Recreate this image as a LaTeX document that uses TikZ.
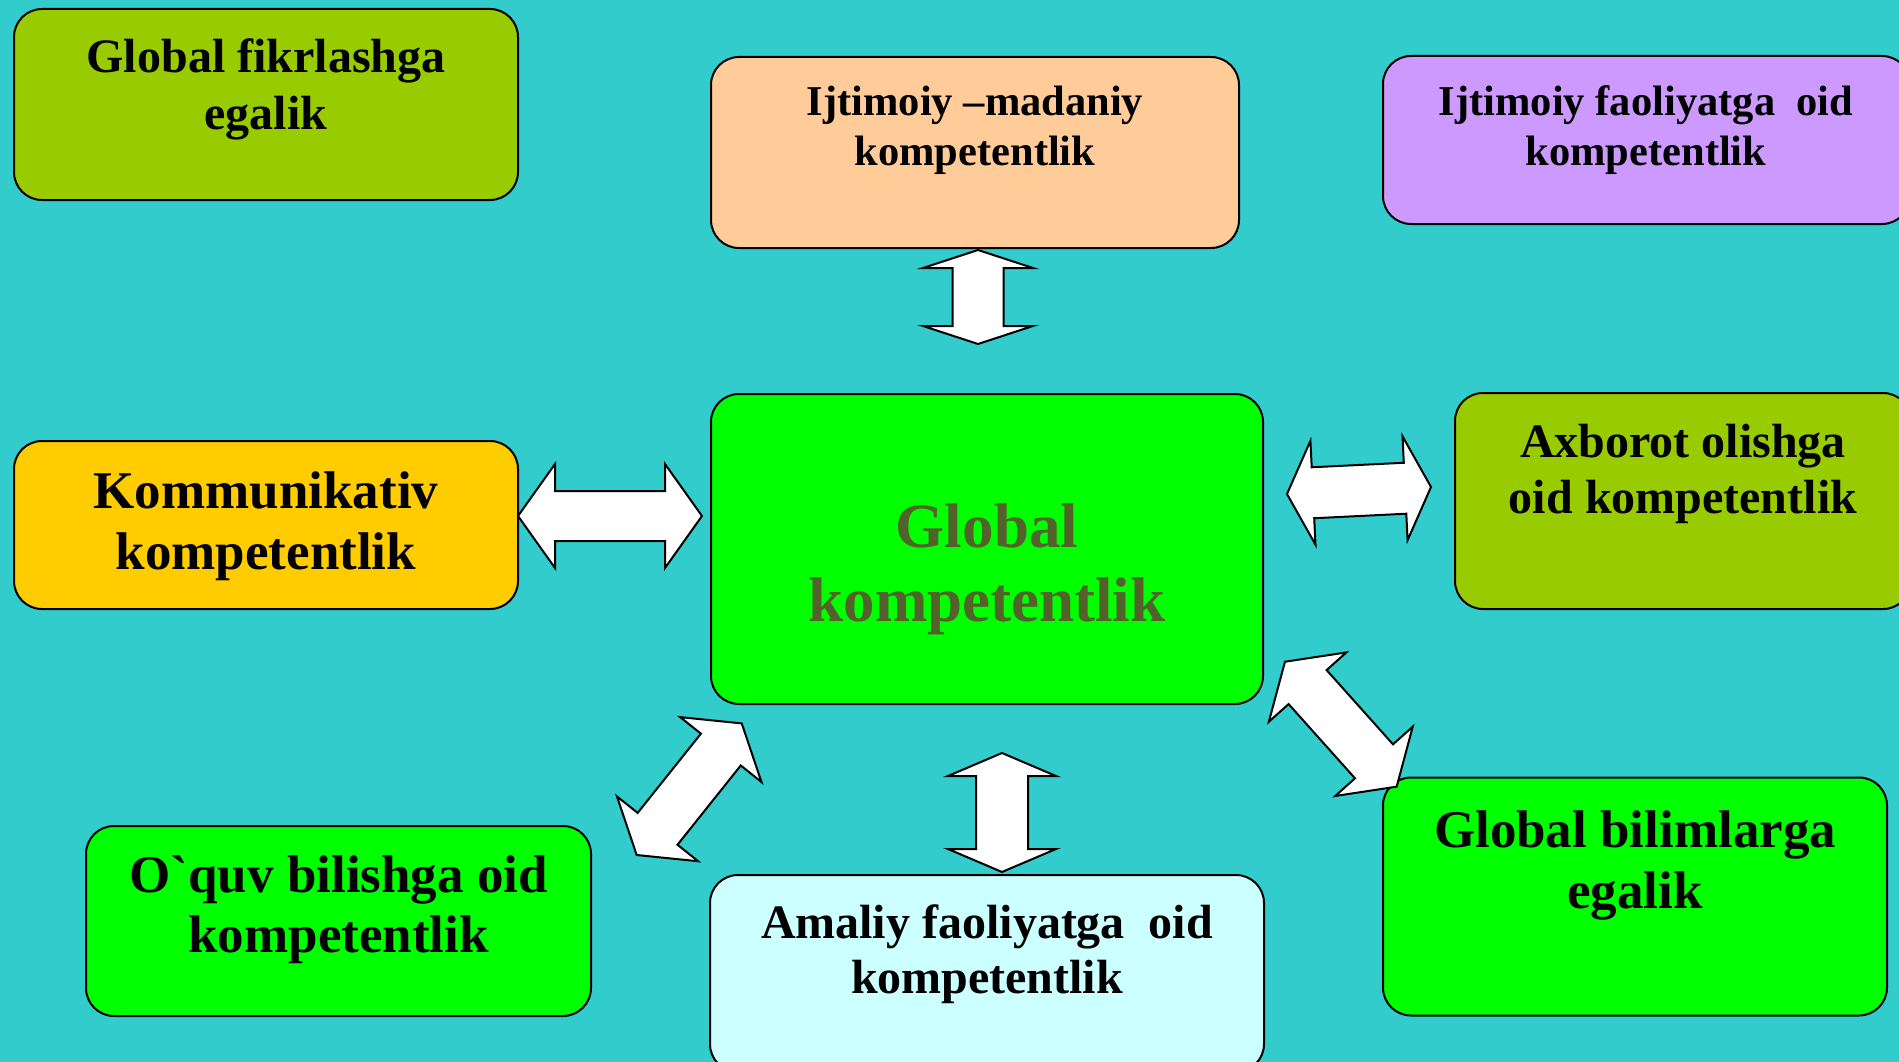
\documentclass[tikz,border=0pt]{standalone}
\usepackage{fontspec}
\setmainfont{Liberation Serif}
\definecolor{bg}{HTML}{33CCCC}
\definecolor{cLime}{HTML}{99CC00}
\definecolor{cPeach}{HTML}{FFCC99}
\definecolor{cLilac}{HTML}{CC99FF}
\definecolor{cGold}{HTML}{FFCC00}
\definecolor{cGreen}{HTML}{00FF00}
\definecolor{cIce}{HTML}{CCFFFF}
\definecolor{cOlive}{RGB}{82,98,42}
\tikzset{
  box/.style={draw=black, line width=2pt, rounded corners=28pt, inner sep=0pt, outer sep=0pt},
  lbl/.style={anchor=base, align=center, inner sep=0pt, font=\bfseries},
  blockarrow/.style={draw=black, fill=white, line width=2pt, line join=miter},
}
\newcommand{\dblarr}[7]{%
  \begin{scope}[shift={(#1,#2)}, rotate=#3]
    \draw[blockarrow] ({-#4/2},0) -- ({-#4/2+#5},#6) -- ({-#4/2+#5},#7) -- ({#4/2-#5},#7) -- ({#4/2-#5},#6) -- ({#4/2},0) -- ({#4/2-#5},-#6) -- ({#4/2-#5},-#7) -- ({-#4/2+#5},-#7) -- ({-#4/2+#5},-#6) -- cycle;
  \end{scope}}
\begin{document}
\begin{tikzpicture}[x=1pt, y=-1pt]
\useasboundingbox (0,0) rectangle (1899,1062);
\clip (0,0) rectangle (1899,1062);
\fill[bg] (-5,-5) rectangle (1905,1067);

% boxes
\node[box, fill=cLime,  minimum width=504pt, minimum height=191pt] (fik)  at (266,104.5) {};
\node[box, fill=cPeach, minimum width=528pt, minimum height=191pt] (mad)  at (975,152.5) {};
\node[box, fill=cLilac, minimum width=527pt, minimum height=168pt] (faol) at (1646.5,140) {};
\node[box, fill=cGold,  minimum width=504pt, minimum height=168pt] (kom)  at (266,525) {};
\node[box, fill=cGreen, minimum width=552pt, minimum height=310pt] (glob) at (987,549) {};
\node[box, fill=cLime,  minimum width=456pt, minimum height=216pt] (axb)  at (1683,501) {};
\node[box, fill=cGreen, minimum width=505pt, minimum height=190pt] (oquv) at (338.5,921) {};
\node[box, fill=cIce,   minimum width=554pt, minimum height=197pt] (amal) at (987,973.5) {};
\node[box, fill=cGreen, minimum width=504pt, minimum height=238pt] (bil)  at (1635,896.5) {};

% texts (anchor = baseline of the last line)
\node[lbl, font=\bfseries\fontsize{48}{57}\selectfont] (fikT) at (266,129.5) {Global fikrlashga\\egalik};
\node[lbl, font=\bfseries\fontsize{42.5}{50}\selectfont] (madT) at (975,165) {Ijtimoiy –madaniy\\kompetentlik};
\node[lbl, font=\bfseries\fontsize{42.5}{50}\selectfont] (faolT) at (1646,165) {Ijtimoiy faoliyatga\ \ oid\\kompetentlik};
\node[lbl, font=\bfseries\fontsize{53}{61}\selectfont] (komT) at (266,569.5) {Kommunikativ\\kompetentlik};
\node[lbl, font=\bfseries\fontsize{63}{74}\selectfont, text=cOlive] (globT) at (987,621) {Global\\kompetentlik};
\node[lbl, font=\bfseries\fontsize{48}{56.5}\selectfont] (axbT) at (1683,513.5) {Axborot olishga\\oid kompetentlik};
\node[lbl, font=\bfseries\fontsize{53}{60}\selectfont] (oquvT) at (338.7,952.3) {O\textasciigrave quv bilishga oid\\kompetentlik};
\node[lbl, font=\bfseries\fontsize{48}{55}\selectfont] (amalT) at (987,993) {Amaliy faoliyatga\ \ oid\\kompetentlik};
\node[lbl, font=\bfseries\fontsize{53}{61}\selectfont] (bilT) at (1635,908) {Global bilimlarga\\egalik};

% block double arrows: cx, cy, angle, length, head length, head half-width, shaft half-width
\dblarr{978}{297}{90}{94}{18}{55}{25.5}
\dblarr{610}{516}{0}{184}{37}{52}{25}
\dblarr{1359}{490.5}{2.8}{144.2}{26}{52}{25.5}
\dblarr{1002}{812.5}{90}{119}{23}{54}{26}
\dblarr{689.2}{789.2}{51.4}{168.4}{33.5}{52}{25.5}
\dblarr{1340.8}{724.2}{-48.2}{167.6}{34}{52}{25.5}
\end{tikzpicture}
\end{document}
